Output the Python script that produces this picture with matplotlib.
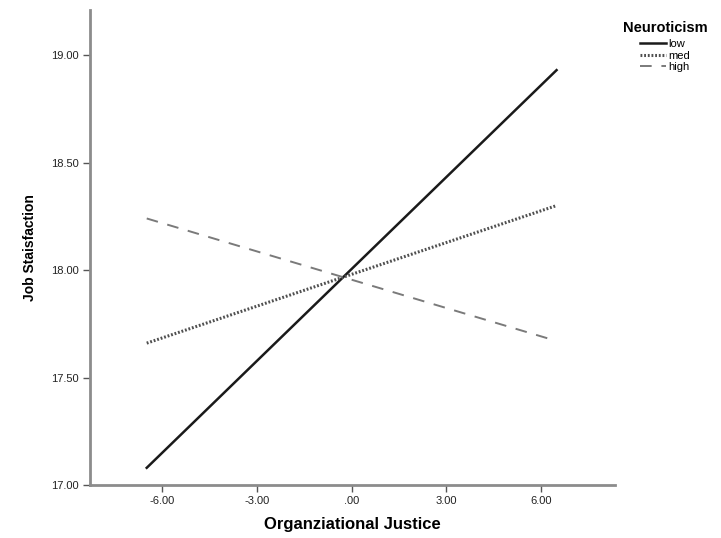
import matplotlib.pyplot as plt

plt.rcParams["font.family"] = ["Liberation Sans", "DejaVu Sans"]

# interaction plot: job satisfaction by organizational justice, per neuroticism level
justice_range = [-6.5, 6.5]
low_vals = [17.08, 18.93]
med_vals = [17.66, 18.30]
high_vals = [18.24, 17.67]

x_ticks = [-6, -3, 0, 3, 6]
x_tick_labels = ["-6.00", "-3.00", ".00", "3.00", "6.00"]
y_ticks = [17.0, 17.5, 18.0, 18.5, 19.0]
y_tick_labels = ["17.00", "17.50", "18.00", "18.50", "19.00"]

fig = plt.figure(figsize=(7.21, 5.38), dpi=100)
ax = fig.add_axes([0.1248, 0.0985, 0.728, 0.883])

ax.plot(justice_range, low_vals, color="#1a1a1a", linewidth=1.8,
        linestyle="-", label="low")
ax.plot(justice_range, med_vals, color="#505050", linewidth=2.2,
        linestyle=(0, (0.6, 0.6)), label="med")
ax.plot(justice_range, high_vals, color="#7a7a7a", linewidth=1.4,
        linestyle=(0, (6, 5)), label="high")

ax.set_xlim(-8.3, 8.35)
ax.set_ylim(17.0, 19.21)
ax.set_xticks(x_ticks)
ax.set_xticklabels(x_tick_labels)
ax.set_yticks(y_ticks)
ax.set_yticklabels(y_tick_labels)

for side in ["top", "right"]:
    ax.spines[side].set_visible(False)
for side in ["left", "bottom"]:
    ax.spines[side].set_color("#8c8c8c")
    ax.spines[side].set_linewidth(2)

ax.tick_params(axis="both", direction="out", length=5, width=1,
               color="#555555", labelsize=8, labelcolor="#222222", pad=3)

ax.set_xlabel("Organziational Justice", fontsize=12, fontweight="bold", labelpad=8)
ax.set_ylabel("Job Staisfaction", fontsize=10, fontweight="bold", labelpad=10)

# legend title and entries placed separately, like the SPSS output
fig.text(0.864, 0.948, "Neuroticism", fontsize=10.5, fontweight="bold",
         ha="left", va="center")
fig.legend(*ax.get_legend_handles_labels(), loc="upper left",
           bbox_to_anchor=(0.888, 0.927), frameon=False, fontsize=8,
           handlelength=2.35, handletextpad=0.2, labelspacing=0.12,
           borderaxespad=0, borderpad=0)

fig.savefig("out.png", dpi=100)
